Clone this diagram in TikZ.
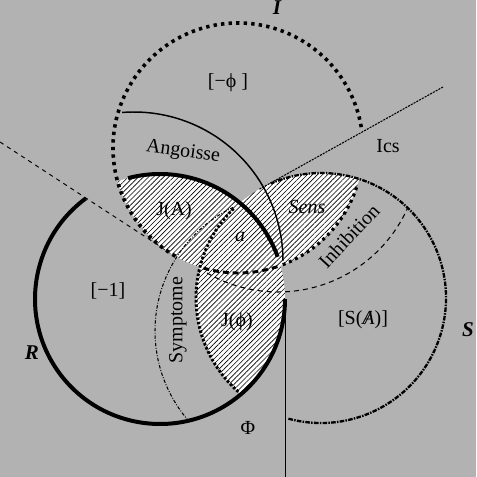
\documentclass[tikz,border=0pt]{standalone}
\usepackage{fontspec}
\setmainfont{Liberation Serif}
\usetikzlibrary{patterns.meta}

\newcommand\barA{\ooalign{\hidewidth\textit{/}\hidewidth\cr\textit{A}}}

\begin{document}
\begin{tikzpicture}[
  x=0.476pt, y=0.476pt,
  font=\fontsize{9.5}{11}\selectfont,
  realring/.style={line width=1.9pt},
  imagring/.style={line width=1.7pt, dash pattern=on 1.6pt off 2pt},
  imagdash/.style={line width=1.4pt, dash pattern=on 2.8pt off 1.9pt},
  imagdot/.style={line width=1.5pt, dash pattern=on 1.4pt off 1.8pt},
  symbring/.style={line width=1.1pt, dash pattern=on 2.2pt off 0.6pt on 0.7pt off 0.6pt},
  symbdot/.style={line width=1.4pt, dash pattern=on 1.2pt off 0.9pt},
  angoissearc/.style={line width=0.7pt},
  inhibarc/.style={line width=0.5pt, dash pattern=on 2.4pt off 1.9pt},
  symptarc/.style={line width=0.5pt, dash pattern=on 1.6pt off 0.8pt on 0.4pt off 0.8pt},
  icsline/.style={line width=0.5pt, dash pattern=on 1pt off 0.5pt},
  cutline/.style={line width=0.45pt, dash pattern=on 2pt off 2pt},
  vline/.style={line width=0.45pt},
  lune/.style={fill=white, postaction={pattern={Lines[angle=45,distance=1.7pt,line width=0.3pt]}, pattern color=black}},
  ringlbl/.style={font=\fontsize{10}{12}\selectfont\bfseries\itshape}
]

% ---- background ----
\fill[black!30] (0,0) rectangle (476,477);
\useasboundingbox (0,0) rectangle (476,477);

% ring centres and shifted field centres
\coordinate (I) at (238,329);
\coordinate (R) at (160,178);
\coordinate (S) at (321,179);
\coordinate (cA) at (134,216);
\coordinate (cI) at (278,327);
\coordinate (cS) at (292,146);
\coordinate (bottom) at (0,0);
\coordinate (icsend) at (443,390);
\coordinate (cutend) at (0,335);

% tangent of I, runs under the lunes
\draw[cutline] (cutend) -- ([shift={(237.3:125)}]I);

% ---- hatched lunes ----
\begin{scope}
  \clip (I) circle[radius=125];
  \path[lune] (R) circle[radius=125] (S) circle[radius=125];
\end{scope}
\begin{scope}
  \clip (R) circle[radius=125];
  \path[lune] (S) circle[radius=125];
\end{scope}

% ---- R ----
\draw[realring] ([shift={(126.4:125)}]R) arc[start angle=126.4, end angle=360, radius=125] coordinate (Rtan);
\draw[realring] ([shift={(19.7:125)}]R) arc[start angle=19.7, end angle=104.8, radius=125];
\draw[vline] (Rtan) -- (Rtan |- bottom);

% ---- I ----
\draw[imagring] ([shift={(9.6:125)}]I) arc[start angle=9.6, end angle=241, radius=125];
\draw[imagdash] ([shift={(254:125)}]I) arc[start angle=254, end angle=290, radius=125];
\draw[imagdot] ([shift={(291:125)}]I) arc[start angle=291, end angle=342, radius=125];

% ---- S ----
\draw[symbdot] ([shift={(134.4:125)}]S) arc[start angle=134.4, end angle=228.6, radius=125];
\draw[symbring] ([shift={(254.9:125)}]S) arc[start angle=254.9, end angle=473.7, radius=125];
\draw[icsline] ([shift={(119.5:125)}]S) -- (icsend);

% ---- fields ----
\draw[angoissearc] ([shift={(94.6:149)}]cA) arc[start angle=94.6, end angle=0, radius=149];
\draw[inhibarc] ([shift={(240:142)}]cI) arc[start angle=240, end angle=336, radius=142];
\draw[symptarc] ([shift={(115.4:137)}]cS) arc[start angle=115.4, end angle=221, radius=137];

% ---- labels ----
\node[ringlbl] (lI) at (277,469) {I};
\node[ringlbl] (lR) at (32,124) {R};
\node[ringlbl] (lS) at (468,147) {S};

\node (mphi) at (228,394) {[−ϕ ]};
\node[rotate=-8] (ang) at (183,325) {Angoisse};
\node (JA) at (174,266) {J(A)};
\node (obj) at (240,240) {\textit{a}};
\node (sens) at (307,270) {\textit{Sens}};
\node (ics) at (388,331) {Ics};
\node[rotate=47] (inh) at (349,241) {Inhibition};
\node (mone) at (108,186) {[−1]};
\node[rotate=90] (sym) at (178,157) {Symptome};
\node (Jphi) at (237,155) {J(ϕ)};
\node (SA) at (363,157) {[S(\barA)]};
\node (Phi) at (248,49) {Φ};

\end{tikzpicture}
\end{document}
